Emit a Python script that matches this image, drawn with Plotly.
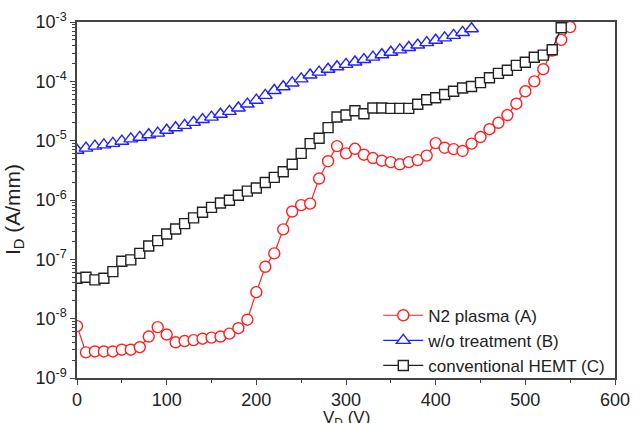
import plotly.graph_objects as go

vd_a = list(range(0, 551, 10))
id_a = [7.5e-9, 2.7e-9, 2.8e-9, 2.8e-9, 2.8e-9, 3.0e-9, 3.0e-9, 3.3e-9, 5.0e-9, 7.2e-9,
        5.4e-9, 4.0e-9, 4.2e-9, 4.35e-9, 4.6e-9, 4.8e-9, 5.0e-9, 5.6e-9, 6.9e-9, 9.6e-9,
        2.8e-8, 7.5e-8, 1.26e-7, 3.2e-7, 6.4e-7, 8.2e-7, 8.7e-7, 2.3e-6, 4.5e-6, 8.1e-6,
        6.1e-6, 7.3e-6, 5.8e-6, 5.1e-6, 4.6e-6, 4.35e-6, 4.0e-6, 4.35e-6, 4.7e-6, 5.6e-6,
        9.1e-6, 7.6e-6, 7.2e-6, 6.7e-6, 8.9e-6, 1.15e-5, 1.56e-5, 2.0e-5, 2.7e-5, 4.2e-5,
        6.8e-5, 1.0e-4, 1.6e-4, 3.3e-4, 5.0e-4, 8.2e-4]

vd_b = list(range(0, 441, 10))
id_b = [6.9e-6, 7.5e-6, 8.1e-6, 8.5e-6, 9.0e-6, 9.8e-6, 1.07e-5, 1.14e-5, 1.26e-5, 1.34e-5,
        1.5e-5, 1.65e-5, 1.81e-5, 2.03e-5, 2.27e-5, 2.49e-5, 2.79e-5, 3.12e-5, 3.56e-5, 4.14e-5,
        4.81e-5, 5.8e-5, 7.0e-5, 8.1e-5, 9.4e-5, 1.1e-4, 1.28e-4, 1.43e-4, 1.6e-4, 1.76e-4,
        1.93e-4, 2.12e-4, 2.33e-4, 2.56e-4, 2.81e-4, 3.09e-4, 3.39e-4, 3.72e-4, 4.09e-4, 4.5e-4,
        4.93e-4, 5.4e-4, 5.96e-4, 6.67e-4, 7.7e-4]

vd_c = list(range(0, 541, 10))
id_c = [4.8e-8, 5.0e-8, 4.5e-8, 4.8e-8, 6.2e-8, 9.3e-8, 9.8e-8, 1.26e-7, 1.68e-7, 2.07e-7,
        2.67e-7, 3.25e-7, 4.0e-7, 5.0e-7, 6.2e-7, 7.5e-7, 8.9e-7, 9.9e-7, 1.2e-6, 1.41e-6,
        1.59e-6, 1.97e-6, 2.41e-6, 3.0e-6, 4.0e-6, 6.1e-6, 8.9e-6, 1.1e-5, 1.66e-5, 2.5e-5,
        2.7e-5, 3.2e-5, 2.84e-5, 3.56e-5, 3.56e-5, 3.5e-5, 3.5e-5, 3.5e-5, 4.1e-5, 4.9e-5,
        5.3e-5, 6.0e-5, 6.8e-5, 7.7e-5, 8.2e-5, 9.5e-5, 1.15e-4, 1.36e-4, 1.54e-4, 1.86e-4,
        2.1e-4, 2.54e-4, 2.77e-4, 3.4e-4, 8.0e-4]

names = ["N2 plasma (A)", "w/o treatment (B)", "conventional HEMT (C)"]
y_tick_vals = [1e-9, 1e-8, 1e-7, 1e-6, 1e-5, 1e-4, 1e-3]
y_tick_text = ["10<sup>-9</sup>", "10<sup>-8</sup>", "10<sup>-7</sup>", "10<sup>-6</sup>",
               "10<sup>-5</sup>", "10<sup>-4</sup>", "10<sup>-3</sup>"]
y_minor_vals = [k * 10.0 ** e for e in range(-9, -3) for k in range(2, 10)]

FONT = "Liberation Sans, Arial, sans-serif"

fig = go.Figure()
fig.add_trace(go.Scatter(x=vd_a, y=id_a, name=names[0], mode="lines+markers",
                         line=dict(color="#ff2020", width=1.2),
                         marker=dict(symbol="circle", size=11, color="white",
                                     line=dict(color="#ff2020", width=1.4))))
fig.add_trace(go.Scatter(x=vd_b, y=id_b, name=names[1], mode="lines+markers",
                         line=dict(color="#2020ff", width=1.2),
                         marker=dict(symbol="triangle-up", size=12, color="white",
                                     line=dict(color="#2020ff", width=1.4))))
fig.add_trace(go.Scatter(x=vd_c, y=id_c, name=names[2], mode="lines+markers",
                         line=dict(color="#222222", width=1.2),
                         marker=dict(symbol="square", size=10, color="white",
                                     line=dict(color="#222222", width=1.4))))

fig.update_layout(
    width=640, height=423,
    margin=dict(l=77, r=22, t=10, b=45),
    paper_bgcolor="white", plot_bgcolor="white",
    font=dict(family=FONT, color="#222222", size=17),
    showlegend=True,
    legend=dict(x=0.56, y=-0.016, xanchor="left", yanchor="bottom",
                bgcolor="rgba(0,0,0,0)", font=dict(size=17, color="#222222"),
                tracegroupgap=0, itemwidth=40),
    xaxis=dict(range=[0, 600], dtick=100, tick0=0, ticks="outside", ticklen=5,
               tickwidth=1.3, tickcolor="#444", showline=True, linecolor="#444",
               linewidth=1.5, mirror=True, showgrid=False, zeroline=False,
               tickfont=dict(size=18),
               minor=dict(dtick=50, tick0=0, ticks="outside", ticklen=3, tickcolor="#444",
                          showgrid=False)),
    yaxis=dict(type="log", range=[-9.00001, -2.99999], tickmode="array", tickvals=y_tick_vals,
               ticktext=y_tick_text, ticks="outside", ticklen=5, tickwidth=1.3,
               tickcolor="#444", showline=True, linecolor="#444", linewidth=1.5,
               mirror=True, showgrid=False, zeroline=False, tickfont=dict(size=18),
               ticklabeloverflow="allow",
               minor=dict(tickmode="array", tickvals=y_minor_vals, ticks="outside",
                          ticklen=3, tickcolor="#444", showgrid=False)),
)
fig.add_annotation(text="I<sub>D</sub> (A/mm)", xref="paper", yref="paper", x=0, y=0.5,
                   xshift=-78, yshift=-10, textangle=-90, showarrow=False, font=dict(size=21))
fig.add_annotation(text="V<sub>D</sub> (V)", xref="paper", yref="paper", x=0.5, y=0,
                   yshift=-28, yanchor="top", showarrow=False, font=dict(size=17))

fig.write_html("out.html")
